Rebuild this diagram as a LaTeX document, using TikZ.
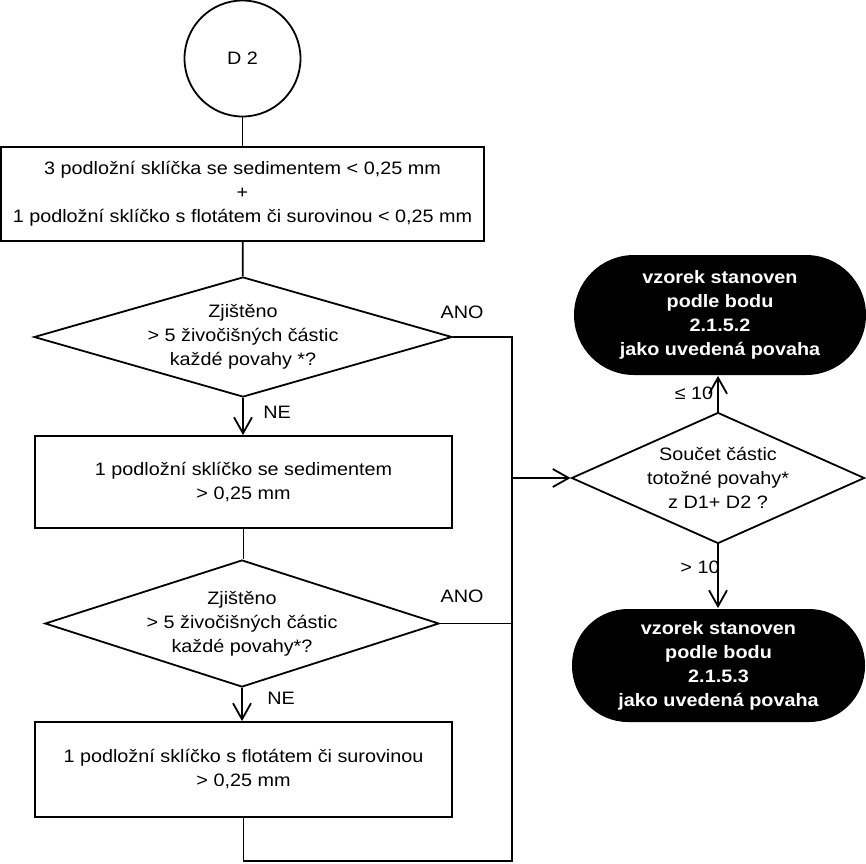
\documentclass[tikz,border=0pt]{standalone}
\usepackage{fontspec}
\setmainfont{Liberation Sans}[FakeStretch=1.1]
\usetikzlibrary{shapes.geometric,arrows.meta}

\begin{document}
\begin{tikzpicture}[x=1pt,y=1pt,yscale=-1,xscale=1,line width=1.8pt,
  every node/.style={font=\fontsize{18}{24}\selectfont,align=center},
  startcirc/.style={circle,draw,minimum size=116,inner sep=0pt},
  stepbox/.style={rectangle,draw,inner sep=0pt},
  decision/.style={diamond,draw,inner sep=0pt},
  result/.style={rectangle,fill=black,text=white,inner sep=0pt,font=\fontsize{18}{24}\selectfont\bfseries},
  lbl/.style={inner sep=0pt},
  flowarrow/.style={-{Straight Barb[length=16pt,width=18pt]}}]
\useasboundingbox (0,0) rectangle (866,863);

%Shape: Circle [id:start]
\node[startcirc] (d2) at (242.5,58.5) {D 2};
%Shape: Rectangle [id:slides1]
\node[stepbox,minimum width=483,minimum height=94] (s1) at (242.5,194) {3 podložní sklíčka se sedimentem < 0,25 mm\\+\\1 podložní sklíčko s flotátem či surovinou < 0,25 mm};
%Shape: Diamond [id:found1]
\node[decision,minimum width=418,minimum height=120,label={[lbl]center:{Zjištěno\\> 5 živočišných částic\\každé povahy *?}}] (q1) at (243,337) {};
%Shape: Rectangle [id:slides2]
\node[stepbox,minimum width=417,minimum height=92] (s2) at (243.5,482) {1 podložní sklíčko se sedimentem\\> 0,25 mm};
%Shape: Diamond [id:found2]
\node[decision,minimum width=394,minimum height=127,label={[lbl]center:{Zjištěno\\> 5 živočišných částic\\každé povahy*?}}] (q2) at (242,623.5) {};
%Shape: Rectangle [id:slides3]
\node[stepbox,minimum width=417,minimum height=95] (s3) at (243.5,769.5) {1 podložní sklíčko s flotátem či surovinou\\> 0,25 mm};
%Shape: Diamond [id:sum]
\node[decision,minimum width=293,minimum height=131,label={[lbl]center:{Součet částic\\totožné povahy*\\z D1+ D2 ?}}] (q3) at (718,478) {};
%Shape: Terminal [id:res1]
\node[result,rounded corners=60,minimum width=292,minimum height=120] (r1) at (720,315) {vzorek stanoven\\podle bodu\\2.1.5.2\\jako uvedená povaha};
%Shape: Terminal [id:res2]
\node[result,rounded corners=56,minimum width=293,minimum height=113] (r2) at (718.5,665.5) {vzorek stanoven\\podle bodu\\2.1.5.3\\jako uvedená povaha};

%Corners of the collecting line
\coordinate (j1) at (512,337);
\coordinate (j2) at (512,623.5);
\coordinate (j3) at (512,478);
\coordinate (c1) at (243.5,861);
\coordinate (c2) at (512,861);

%Straight Lines
\draw (d2) -- (s1);
\draw (s1) -- (q1);
\draw[flowarrow] (q1) -- (q1 |- s2.north);
\draw (s2) -- (s2 |- q2.north);
\draw[flowarrow] (q2) -- (q2 |- s3.north);
\draw (s3.south) -- (c1) -- (c2) -- (j1) -- (q1.east);
\draw (q2.east) -- (j2);
\draw[flowarrow] (j3) -- (q3.west);
\draw[flowarrow] (q3.north) -- (q3.north |- r1.south);
\draw[flowarrow] (q3.south) -- (q3.south |- r2.north);

% Text Node
\node[lbl] (ano1) at (462,312) {ANO};
% Text Node
\node[lbl] (ne1) at (277,412) {NE};
% Text Node
\node[lbl] (ano2) at (462,596) {ANO};
% Text Node
\node[lbl] (ne2) at (281,698) {NE};
% Text Node
\node[lbl] (le10) at (694,393) {≤ 10};
% Text Node
\node[lbl] (gt10) at (700,567) {> 10};

\end{tikzpicture}
\end{document}
